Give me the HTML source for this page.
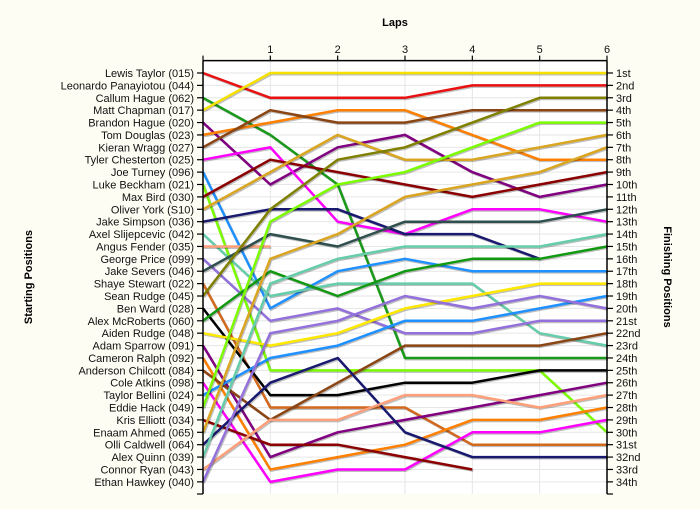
<!DOCTYPE html>
<html><head><meta charset="utf-8">
<style>
body{margin:0;background:#fdfdf3;}
svg{display:block;font-family:"Liberation Sans",sans-serif;}
</style></head>
<body>
<svg id="chart" width="700" height="510" viewBox="0 0 700 510" xmlns="http://www.w3.org/2000/svg">
<rect x="0" y="0" width="700" height="510" fill="#fdfdf3"/>
<rect x="203" y="61" width="404" height="433" fill="#ffffff"/>
<g id="grid"></g>
<g id="series"></g>
<g id="axes"></g>
<text x="395" y="26" text-anchor="middle" font-size="11" font-weight="bold">Laps</text>
<text transform="translate(32,277) rotate(-90)" text-anchor="middle" font-size="11" font-weight="bold">Starting Positions</text>
<text transform="translate(664,277) rotate(90)" text-anchor="middle" font-size="11" font-weight="bold">Finishing Positions</text>
</svg>
<script>
const laps = [0,1,2,3,4,5,6];
const drivers = ["Lewis Taylor (015)","Leonardo Panayiotou (044)","Callum Hague (062)","Matt Chapman (017)","Brandon Hague (020)","Tom Douglas (023)","Kieran Wragg (027)","Tyler Chesterton (025)","Joe Turney (096)","Luke Beckham (021)","Max Bird (030)","Oliver York (S10)","Jake Simpson (036)","Axel Slijepcevic (042)","Angus Fender (035)","George Price (099)","Jake Severs (046)","Shaye Stewart (022)","Sean Rudge (045)","Ben Ward (028)","Alex McRoberts (060)","Aiden Rudge (048)","Adam Sparrow (091)","Cameron Ralph (092)","Anderson Chilcott (084)","Cole Atkins (098)","Taylor Bellini (024)","Eddie Hack (049)","Kris Elliott (034)","Enaam Ahmed (065)","Olli Caldwell (064)","Alex Quinn (039)","Connor Ryan (043)","Ethan Hawkey (040)"];
const finishLabels = ["1st","2nd","3rd","4th","5th","6th","7th","8th","9th","10th","11th","12th","13th","14th","15th","16th","17th","18th","19th","20th","21st","22nd","23rd","24th","25th","26th","27th","28th","29th","30th","31st","32nd","33rd","34th"];
const lapTicks = ["1","2","3","4","5","6"];
const colors = ["#e81010",null,"#1a9a1a","#f5e000","#800080","#ff8000","#8b4513","#ff00ff","#1e90ff","#7cfc00","#8b0000","#daa520","#191970","#66cdaa","#ffa07a","#9370db","#2f4f4f","#d2691e","#808000","#000000","#119911","#ffe800","#800080","#ff8000","#8b4513","#ff00ff","#1e90ff","#7cfc00","#8b0000","#daa520","#191970","#66cdaa","#ffa07a","#9370db"];
const positions = [
[1,3,3,3,2,2,2],
[null,null,null,null,null,null,null],
[3,6,10,24,24,24,24],
[4,1,1,1,1,1,1],
[5,10,7,6,9,11,10],
[6,5,4,4,6,8,8],
[7,4,5,5,4,4,4],
[8,7,13,14,12,12,13],
[9,20,17,16,17,17,17],
[10,25,25,25,25,25,30],
[11,8,9,10,11,10,9],
[12,9,6,8,8,7,6],
[13,12,12,14,14,16,null],
[14,19,18,18,18,22,23],
[15,15,null,null,null,null,null],
[16,21,20,22,22,21,21],
[17,14,15,13,13,13,12],
[18,28,28,28,31,31,31],
[19,12,8,7,5,3,3],
[20,27,27,26,26,25,25],
[21,17,19,17,16,16,15],
[22,23,22,20,19,18,18],
[23,32,30,29,28,27,26],
[24,33,32,31,29,29,28],
[25,29,26,23,23,23,22],
[26,34,33,33,30,30,29],
[27,24,23,21,21,20,19],
[28,13,10,9,7,5,5],
[29,31,31,32,33,null,null],
[30,16,14,11,10,9,7],
[31,26,24,30,32,32,32],
[32,18,16,15,15,15,14],
[33,29,29,27,27,28,27],
[34,22,21,19,20,19,20]
];
const NS = "http://www.w3.org/2000/svg";
const X0 = 203, X1 = 607, Y0 = 60.6, ROW = 12.39;
function xScale(l){ return X0 + (X1 - X0) * l / 6; }
function yScale(p){ return Y0 + p * ROW; }
function mk(tag, attrs, parent){ const e = document.createElementNS(NS, tag); for (const k in attrs) e.setAttribute(k, attrs[k]); parent.appendChild(e); return e; }
const grid = document.getElementById('grid'), axes = document.getElementById('axes'), series = document.getElementById('series');
for (let r = 1; r <= 34; r++) {
  const g = mk('line', {x1:X0, x2:X1, y1:yScale(r), y2:yScale(r), stroke:'#e6e6e6', 'stroke-width':1}, grid);
  
  
}
for (let i = 1; i < laps.length - 1; i++) {
  const g = mk('line', {x1:xScale(laps[i]), x2:xScale(laps[i]), y1:Y0, y2:494, stroke:'#e6e6e6', 'stroke-width':1}, grid);
  
  
}
positions.forEach((row, d) => {
  const pts = [];
  row.forEach((p, l) => { if (p !== null) pts.push(xScale(laps[l]).toFixed(1) + ',' + yScale(p).toFixed(1)); });
  if (pts.length < 2) return;
  const sh = mk('polyline', {points: pts.join(' '), fill:'none', stroke:'#000', 'stroke-opacity':0.25, 'stroke-width':2.5, transform:'translate(1,1.2)', 'stroke-linejoin':'round'}, series);
  
  
  const pl = mk('polyline', {points: pts.join(' '), fill:'none', stroke: colors[d], 'stroke-width':2.5, 'stroke-linejoin':'round'}, series);
  
  
});
// axes lines
let a = mk('line', {x1:X0, x2:X0, y1:Y0, y2:494, stroke:'#000', 'stroke-width':1.5}, axes);


a = mk('line', {x1:X1, x2:X1, y1:Y0, y2:494, stroke:'#000', 'stroke-width':1.5}, axes);


a = mk('line', {x1:X0, x2:X1, y1:Y0, y2:Y0, stroke:'#000', 'stroke-width':1.5}, axes);


for (let i = 0; i < laps.length; i++) {
  const t = mk('line', {x1:xScale(laps[i]), x2:xScale(laps[i]), y1:Y0, y2:Y0-5, stroke:'#000', 'stroke-width':1.2}, axes);
  
  
}
lapTicks.forEach((lab, i) => {
  const t = mk('text', {x:xScale(i+1), y:53, 'text-anchor':'middle', 'font-size':11, fill:'#111'}, axes);
  t.textContent = lab;
  
  
});
for (let r = 1; r <= 35; r++) {
  const y = r === 35 ? 494 : yScale(r);
  const t = mk('line', {x1:X0-6, x2:X0, y1:y, y2:y, stroke:'#000', 'stroke-width':1.2}, axes);
  
  
  const t2 = mk('line', {x1:X1, x2:X1+6, y1:y, y2:y, stroke:'#000', 'stroke-width':1.2}, axes);
  
  
}
drivers.forEach((n, i) => {
  const t = mk('text', {x:194, y:yScale(i+1)+4, 'text-anchor':'end', 'font-size':11, fill:'#111'}, axes);
  t.textContent = n;
  
  
});
finishLabels.forEach((n, i) => {
  const t = mk('text', {x:616, y:yScale(i+1)+4, 'font-size':11, fill:'#111'}, axes);
  t.textContent = n;
  
  
});
</script>
</body></html>
